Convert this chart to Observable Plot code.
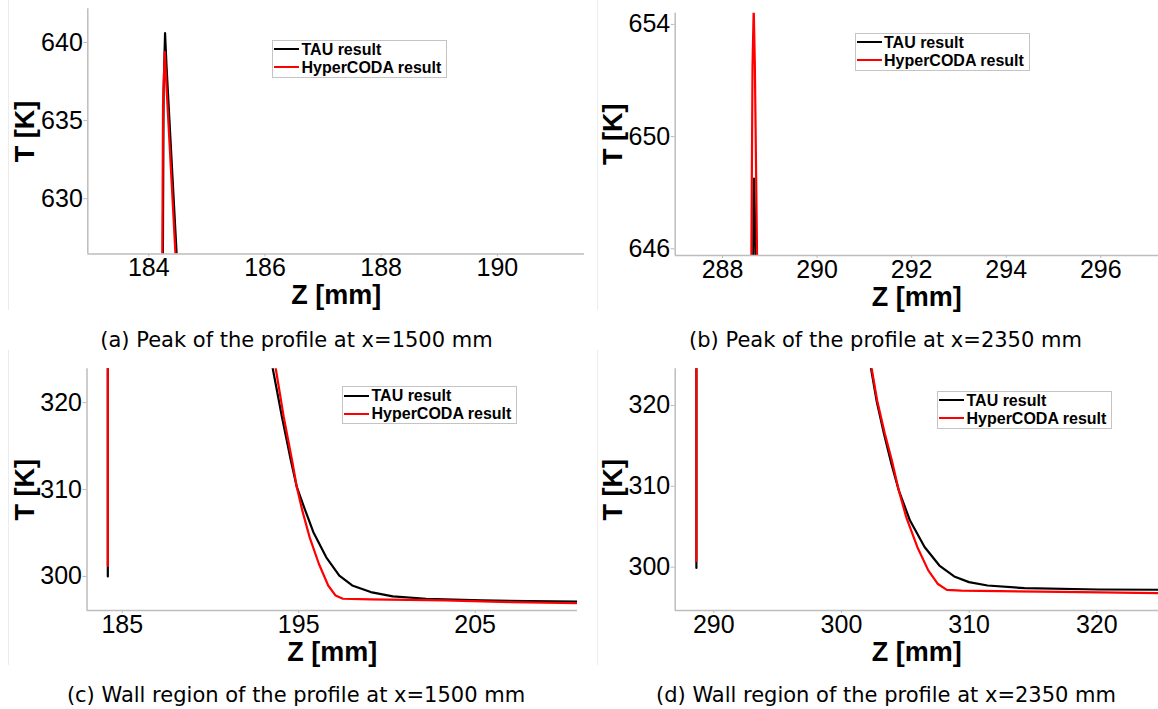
<!DOCTYPE html>
<html>
<head>
<meta charset="utf-8">
<script src="https://cdn.jsdelivr.net/npm/d3@7"></script>
<script src="https://cdn.jsdelivr.net/npm/@observablehq/plot@0.6"></script>
<style>
  body { margin: 0; background: #fff; }
  #fig { position: relative; width: 1158px; height: 709px; overflow: hidden; background: #fff; }
  .panel { position: absolute; }
  .caption { position: absolute; font-family: "DejaVu Sans", sans-serif; font-size: 21px; color: #000;
             transform: translate(-50%, -50%); white-space: nowrap; }
  .legend { position: absolute; border: 1px solid #c4c4c4; background: #fff; box-sizing: border-box;
            font-family: "Liberation Sans", Arial, sans-serif; font-weight: bold; font-size: 16px;
            line-height: 18px; color: #000; width: 175px; height: 38px; white-space: nowrap; }
  .legend .row { height: 18px; }
  .legend .sw { display: inline-block; width: 25px; height: 0; border-top: 2px solid #000;
                vertical-align: middle; margin-left: 1px; margin-right: 2.5px; position: relative; top: -1px; }
  .sep { position: absolute; width: 1px; background: #ececec; }
</style>
</head>
<body>
<div id="fig"></div>
<script>
// ---------- data (Z in mm, T in K) ----------
const seriesNames = ["TAU result", "HyperCODA result"];
const seriesColors = ["#000000", "#ff0000"];

// (a) Peak of the profile at x=1500 mm
const aZ_TAU = [184.235, 184.255, 184.28, 184.305, 184.48, 184.49];
const aT_TAU = [620.0, 637.0, 640.6, 638.5, 626.4, 625.5];
const aZ_HC  = [184.225, 184.245, 184.275, 184.30, 184.46, 184.47];
const aT_HC  = [620.0, 636.0, 639.4, 637.5, 626.4, 625.6];
const aXTicks = [184, 186, 188, 190];
const aYTicks = [630, 635, 640];

// (b) Peak of the profile at x=2350 mm
const bZ_TAU = [288.635, 288.655, 288.667, 288.68, 288.775];
const bT_TAU = [640.0, 647.6, 648.5, 647.6, 640.0];
const bZ_HC  = [288.59, 288.635, 288.66, 288.685, 288.77];
const bT_HC  = [640.0, 652.5, 654.6, 652.5, 640.0];
const bXTicks = [288, 290, 292, 294, 296];
const bYTicks = [646, 650, 654];

// (c) Wall region of the profile at x=1500 mm
const cWallZ_TAU = [184.18, 184.18];
const cWallT_TAU = [300.0, 326.0];
const cWallZ_HC  = [184.18, 184.18];
const cWallT_HC  = [301.2, 326.0];
const cZ_TAU = [193.4, 193.53, 194.05, 194.55, 194.89, 195.3, 195.83, 196.56, 197.3, 198.03, 199.08, 200.33, 202.22, 205.36, 208.0, 211.2];
const cT_TAU = [325.3, 323.9, 318.35, 313.4, 310.3, 307.98, 305.1, 302.2, 300.1, 298.96, 298.2, 297.7, 297.43, 297.24, 297.16, 297.1];
const cZ_HC  = [193.55, 193.7, 194.15, 194.62, 194.89, 195.2, 195.62, 196.14, 196.67, 197.09, 197.5, 199.08, 203.27, 207.0, 211.2];
const cT_HC  = [325.3, 323.9, 318.35, 313.4, 310.3, 307.6, 304.5, 301.46, 298.96, 297.8, 297.43, 297.35, 297.24, 297.05, 296.9];
const cXTicks = [185, 195, 205];
const cYTicks = [300, 310, 320];

// (d) Wall region of the profile at x=2350 mm
const dWallZ_TAU = [288.64, 288.64];
const dWallT_TAU = [299.9, 327.0];
const dWallZ_HC  = [288.64, 288.64];
const dWallT_HC  = [300.75, 327.0];
const dZ_TAU = [302.2, 302.32, 302.75, 303.33, 303.91, 304.49, 305.36, 306.51, 307.67, 308.83, 309.99, 311.44, 314.34, 320.13, 325.5];
const dT_TAU = [325.5, 324.55, 320.6, 316.5, 312.8, 309.5, 305.8, 302.5, 300.2, 298.85, 298.15, 297.73, 297.4, 297.24, 297.2];
const dZ_HC  = [302.25, 302.37, 302.8, 303.4, 303.95, 304.49, 305.07, 305.94, 306.8, 307.53, 308.25, 309.4, 317.2, 325.5];
const dT_HC  = [325.5, 324.55, 320.6, 316.5, 313.2, 309.5, 306.2, 302.5, 299.6, 297.95, 297.2, 297.1, 296.95, 296.78];
const dXTicks = [290, 300, 310, 320];
const dYTicks = [300, 310, 320];

const captions = [
  "(a) Peak of the profile at x=1500 mm",
  "(b) Peak of the profile at x=2350 mm",
  "(c) Wall region of the profile at x=1500 mm",
  "(d) Wall region of the profile at x=2350 mm"
];

// ---------- helpers ----------
function rows(zs, ts, seg) { return zs.map((z, i) => ({z, T: ts[i], seg})); }

const AXIS = "#bdbdbd";

function makePanel(o) {
  const marks = [];
  o.series.forEach((s, i) => {
    marks.push(Plot.line(s, {x: "z", y: "T", z: "seg", stroke: seriesColors[i], strokeWidth: 2.2, clip: true}));
  });
  marks.push(
    Plot.ruleX([o.xDom[0]], {stroke: AXIS, strokeWidth: 1.5}),
    Plot.ruleY([o.yDom[0]], {stroke: AXIS, strokeWidth: 1.5}),
    Plot.axisX(o.xTicks, {tickSize: 3, tickPadding: 1.5, fontSize: 25, stroke: AXIS, fill: "#000", label: null}),
    Plot.axisY(o.yTicks, {tickSize: 4, tickPadding: 1, fontSize: 25, stroke: AXIS, fill: "#000", label: null}),
    Plot.text(["Z [mm]"], {text: d => d, frameAnchor: "bottom", lineAnchor: "middle", textAnchor: "middle",
      dy: 41.5, fontSize: 27, fontWeight: "bold", fill: "#000"}),
    Plot.text(["T [K]"], {text: d => d, frameAnchor: "left", lineAnchor: "middle", textAnchor: "middle",
      rotate: -90, dx: o.titleDx, fontSize: 27, fontWeight: "bold", fill: "#000"})
  );
  return Plot.plot({
    width: o.width, height: o.height,
    marginLeft: o.mL, marginTop: o.mT, marginBottom: o.mB, marginRight: 0,
    style: {fontFamily: "'Liberation Sans', Arial, sans-serif", background: "transparent", color: "#000", overflow: "visible"},
    x: {domain: o.xDom, label: null},
    y: {domain: o.yDom, label: null},
    marks
  });
}

const panels = [
  {left: 0, top: 0, width: 584, height: 320, mL: 87.3, mT: 8.3, mB: 66.5, titleDx: -62,
   xDom: [182.95, 191.5], yDom: [626.46, 642.16], xTicks: aXTicks, yTicks: aYTicks,
   series: [rows(aZ_TAU, aT_TAU, "tau"), rows(aZ_HC, aT_HC, "hc")],
   legend: {left: 272, top: 39.5}, cap: {x: 296.5, y: 340}},
  {left: 580, top: 0, width: 578, height: 320, mL: 94.7, mT: 12.7, mB: 65, titleDx: -61.5,
   xDom: [287.0, 297.22], yDom: [645.76, 654.4], xTicks: bXTicks, yTicks: bYTicks,
   series: [rows(bZ_TAU, bT_TAU, "tau"), rows(bZ_HC, bT_HC, "hc")],
   legend: {left: 854.5, top: 32.5}, cap: {x: 885.5, y: 340}},
  {left: 0, top: 350, width: 577, height: 330, mL: 86.5, mT: 18.3, mB: 70, titleDx: -61.5,
   xDom: [183.0, 210.8], yDom: [296.08, 323.9], xTicks: cXTicks, yTicks: cYTicks,
   series: [rows(cWallZ_TAU, cWallT_TAU, "wall").concat(rows(cZ_TAU, cT_TAU, "curve")),
            rows(cWallZ_HC, cWallT_HC, "wall").concat(rows(cZ_HC, cT_HC, "curve"))],
   legend: {left: 342, top: 386}, cap: {x: 296, y: 695}},
  {left: 580, top: 350, width: 578, height: 330, mL: 94.7, mT: 18.3, mB: 70, titleDx: -61.5,
   xDom: [286.98, 324.83], yDom: [294.64, 324.54], xTicks: dXTicks, yTicks: dYTicks,
   series: [rows(dWallZ_TAU, dWallT_TAU, "wall").concat(rows(dZ_TAU, dT_TAU, "curve")),
            rows(dWallZ_HC, dWallT_HC, "wall").concat(rows(dZ_HC, dT_HC, "curve"))],
   legend: {left: 937, top: 390.5}, cap: {x: 886, y: 695}}
];

const fig = document.getElementById("fig");

panels.forEach((p, i) => {
  const wrap = document.createElement("div");
  wrap.className = "panel";
  wrap.style.left = p.left + "px";
  wrap.style.top = p.top + "px";
  wrap.appendChild(makePanel(p));
  fig.appendChild(wrap);

  const lg = document.createElement("div");
  lg.className = "legend";
  lg.style.left = p.legend.left + "px";
  lg.style.top = p.legend.top + "px";
  seriesNames.forEach((name, k) => {
    const row = document.createElement("div");
    row.className = "row";
    const sw = document.createElement("span");
    sw.className = "sw";
    sw.style.borderTopColor = seriesColors[k];
    row.appendChild(sw);
    row.appendChild(document.createTextNode(name));
    lg.appendChild(row);
  });
  fig.appendChild(lg);

  const cap = document.createElement("div");
  cap.className = "caption";
  cap.style.left = p.cap.x + "px";
  cap.style.top = p.cap.y + "px";
  cap.textContent = captions[i];
  fig.appendChild(cap);
});

// faint sub-figure borders
[[8, 0, 310], [597, 0, 310], [8, 350, 315], [597, 350, 315]].forEach(([x, y, h]) => {
  const s = document.createElement("div");
  s.className = "sep";
  s.style.left = x + "px"; s.style.top = y + "px"; s.style.height = h + "px";
  fig.appendChild(s);
});
</script>
</body>
</html>
